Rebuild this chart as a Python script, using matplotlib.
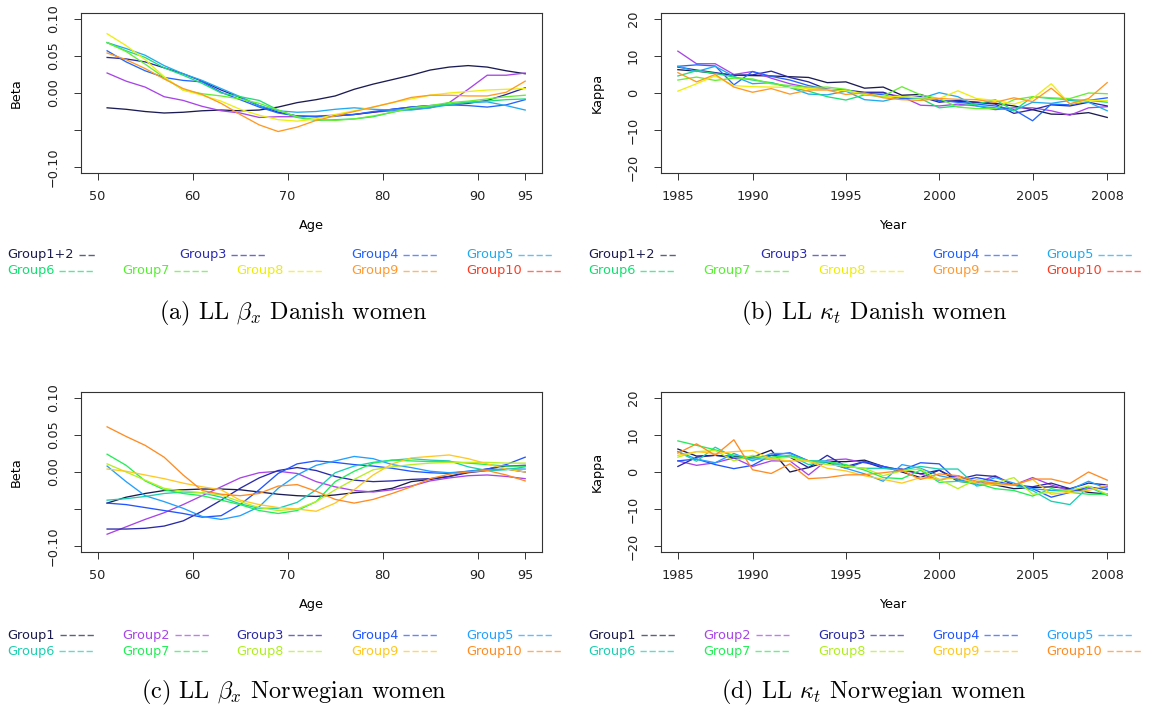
import matplotlib.pyplot as plt
from matplotlib.lines import Line2D
import numpy as np

plt.rcParams['font.family'] = 'DejaVu Sans'
plt.rcParams['mathtext.fontset'] = 'cm'

W, H = 1151, 708

# ---- data ----
ages = list(range(51, 96, 2))
years = list(range(1985, 2009))

# Danish beta_x (lines in drawing order)
dk_beta = [
    [-0.020, -0.022, -0.025, -0.027, -0.026, -0.024, -0.023, -0.024, -0.023, -0.019, -0.013, -0.009,
     -0.004, 0.005, 0.012, 0.018, 0.024, 0.031, 0.035, 0.037, 0.035, 0.030, 0.026],
    [0.027, 0.016, 0.008, -0.005, -0.010, -0.018, -0.024, -0.027, -0.033, -0.032, -0.032, -0.031,
     -0.030, -0.029, -0.026, -0.024, -0.022, -0.020, -0.013, 0.005, 0.024, 0.024, 0.027],
    [0.048, 0.046, 0.042, 0.034, 0.026, 0.016, 0.004, -0.006, -0.017, -0.026, -0.031, -0.032,
     -0.031, -0.029, -0.026, -0.022, -0.019, -0.017, -0.016, -0.014, -0.010, -0.002, 0.007],
    [0.057, 0.042, 0.030, 0.021, 0.017, 0.015, 0.001, -0.009, -0.019, -0.027, -0.031, -0.032,
     -0.031, -0.029, -0.025, -0.022, -0.019, -0.017, -0.016, -0.017, -0.019, -0.016, -0.009],
    [0.068, 0.060, 0.051, 0.037, 0.026, 0.017, 0.006, -0.005, -0.017, -0.024, -0.026, -0.025,
     -0.022, -0.020, -0.022, -0.023, -0.023, -0.020, -0.016, -0.013, -0.012, -0.017, -0.023],
    [0.068, 0.057, 0.048, 0.034, 0.024, 0.013, 0.000, -0.005, -0.010, -0.023, -0.033, -0.037,
     -0.036, -0.035, -0.032, -0.026, -0.021, -0.018, -0.015, -0.012, -0.011, -0.009, -0.008],
    [0.068, 0.056, 0.039, 0.021, 0.004, -0.001, -0.004, -0.008, -0.014, -0.023, -0.032, -0.036,
     -0.037, -0.035, -0.031, -0.026, -0.020, -0.017, -0.013, -0.011, -0.008, -0.005, -0.003],
    [0.080, 0.064, 0.045, 0.022, 0.004, -0.003, -0.011, -0.022, -0.030, -0.036, -0.038, -0.035,
     -0.029, -0.024, -0.019, -0.013, -0.008, -0.003, 0.000, 0.002, 0.004, 0.005, 0.006],
    [0.054, 0.045, 0.033, 0.019, 0.006, -0.002, -0.014, -0.029, -0.043, -0.052, -0.046, -0.037,
     -0.031, -0.025, -0.019, -0.013, -0.006, -0.003, -0.003, -0.004, -0.004, 0.001, 0.016],
]

# Danish kappa_t
dk_kappa = [
    [6.3, 5.9, 5.3, 4.8, 4.7, 4.6, 4.4, 4.2, 2.8, 3.0, 1.3, 1.6, -0.6, -0.4, -2.1, -2.3, -2.5, -2.8,
     -3.5, -4.5, -5.7, -5.8, -5.3, -6.6],
    [11.3, 7.9, 7.9, 5.0, 5.8, 4.0, 2.5, 1.5, 1.0, 0.5, 0.0, 0.0, -1.0, -3.3, -3.5, -3.0, -3.5, -4.5,
     -4.0, -4.0, -4.8, -6.0, -4.0, -3.7],
    [7.0, 6.2, 5.5, 4.8, 4.9, 5.9, 4.2, 3.0, 1.0, 0.8, 0.2, 0.2, -1.5, -1.0, -2.5, -2.0, -2.5, -3.0,
     -5.5, -4.5, -3.2, -3.5, -2.5, -3.5],
    [7.2, 7.6, 7.3, 2.2, 5.8, 4.5, 3.5, 2.0, 1.0, 0.5, 0.0, -0.5, -1.5, -1.2, -2.0, -2.5, -3.0, -3.5,
     -4.5, -7.5, -3.0, -3.2, -2.0, -1.3],
    [7.2, 5.8, 7.2, 4.5, 2.5, 2.8, 1.5, -0.3, -0.5, 0.5, -1.8, -2.2, -1.0, -1.5, 0.1, -1.0, -3.5, -4.0,
     -4.8, -2.5, -2.8, -2.0, -2.5, -4.8],
    [4.6, 6.0, 5.3, 4.3, 3.5, 2.8, 1.5, 0.5, -1.0, -1.9, -0.5, -1.0, -1.0, -1.5, -4.0, -3.5, -3.0, -1.8,
     -4.8, -1.0, -1.5, -1.8, -2.0, -2.5],
    [3.5, 4.3, 3.4, 4.0, 3.8, 2.5, 2.0, 1.5, 1.6, 1.0, -0.5, -0.8, 1.7, -0.5, -1.5, -3.8, -4.2, -4.2,
     -1.8, -1.0, -1.3, -1.5, 0.0, -0.2],
    [0.5, 2.5, 4.6, 2.0, 1.7, 1.6, 1.5, 1.2, 1.0, 0.6, -0.3, -0.8, -1.0, -1.3, -1.5, 0.6, -1.5, -2.0,
     -3.0, -1.5, 2.5, -3.0, -2.0, -2.0],
    [5.5, 3.0, 5.0, 1.6, 0.2, 1.2, -0.3, 0.8, 0.8, -0.4, 0.0, -1.3, -1.8, -2.0, -1.5, -1.7, -1.8, -2.5,
     -1.3, -2.3, 1.3, -2.9, -1.5, 2.8],
]

# Norwegian beta_x, Group1..Group10
no_beta = [
    [-0.042, -0.034, -0.029, -0.025, -0.024, -0.023, -0.023, -0.024, -0.027, -0.030, -0.032, -0.033,
     -0.031, -0.028, -0.026, -0.022, -0.013, -0.010, -0.006, 0.000, 0.004, 0.008, 0.009],
    [-0.084, -0.074, -0.064, -0.055, -0.044, -0.032, -0.020, -0.008, -0.001, 0.001, -0.002, -0.013,
     -0.020, -0.025, -0.027, -0.024, -0.019, -0.012, -0.008, -0.005, -0.004, -0.006, -0.009],
    [-0.077, -0.077, -0.076, -0.073, -0.066, -0.053, -0.038, -0.022, -0.008, 0.002, 0.006, 0.002,
     -0.006, -0.011, -0.013, -0.012, -0.010, -0.009, -0.006, -0.001, 0.002, 0.004, 0.000],
    [-0.042, -0.044, -0.048, -0.052, -0.056, -0.061, -0.059, -0.044, -0.024, -0.002, 0.011, 0.015,
     0.013, 0.010, 0.008, 0.005, 0.001, -0.001, -0.002, 0.001, 0.004, 0.010, 0.020],
    [0.008, -0.013, -0.032, -0.040, -0.049, -0.060, -0.064, -0.059, -0.047, -0.022, -0.004, 0.009,
     0.015, 0.021, 0.018, 0.010, 0.006, 0.001, -0.001, 0.001, 0.003, 0.004, 0.004],
    [-0.038, -0.036, -0.033, -0.029, -0.027, -0.028, -0.034, -0.043, -0.049, -0.049, -0.041, -0.024,
     -0.001, 0.008, 0.013, 0.016, 0.018, 0.016, 0.015, 0.007, 0.002, 0.003, 0.007],
    [0.024, 0.009, -0.012, -0.024, -0.029, -0.032, -0.038, -0.044, -0.052, -0.056, -0.052, -0.040,
     -0.013, 0.001, 0.012, 0.016, 0.015, 0.014, 0.014, 0.012, 0.010, 0.008, 0.008],
    [0.011, 0.000, -0.011, -0.022, -0.026, -0.028, -0.031, -0.040, -0.048, -0.052, -0.050, -0.040,
     -0.024, -0.010, 0.003, 0.007, 0.010, 0.012, 0.013, 0.013, 0.013, 0.012, 0.012],
    [0.004, 0.001, -0.004, -0.009, -0.015, -0.020, -0.024, -0.038, -0.044, -0.048, -0.050, -0.053,
     -0.042, -0.024, -0.004, 0.011, 0.019, 0.021, 0.023, 0.018, 0.011, 0.004, 0.000],
    [0.061, 0.048, 0.036, 0.020, -0.004, -0.025, -0.030, -0.032, -0.029, -0.019, -0.017, -0.026,
     -0.037, -0.042, -0.037, -0.029, -0.020, -0.009, -0.003, 0.000, 0.002, -0.004, -0.012],
]

# Norwegian kappa_t, Group1..Group10
no_kappa = [
    [6.2, 4.3, 4.5, 4.2, 4.0, 5.9, 0.0, 1.2, 2.8, 2.8, 3.2, 1.5, 0.0, -1.5, 0.5, -2.5, -3.0, -3.5,
     -4.5, -4.2, -4.0, -4.5, -5.5, -6.0],
    [3.0, 1.8, 2.5, 3.8, 1.5, 3.0, 3.0, -0.8, 3.2, 3.5, 2.5, 1.5, 0.5, -0.5, -2.2, -1.0, -3.0, -1.0,
     -3.5, -1.5, -3.5, -5.0, -4.5, -4.0],
    [1.5, 4.0, 4.5, 3.8, 3.8, 4.5, 4.0, 1.2, 4.5, 1.5, 2.8, 1.0, 0.8, -0.5, 0.5, -2.0, -0.8, -1.2,
     -3.5, -4.0, -3.0, -4.5, -3.0, -3.5],
    [3.0, 3.5, 2.0, 0.9, 1.8, 4.5, 5.2, 3.0, 2.5, 1.0, 2.8, 1.5, 0.5, 2.5, 2.2, -2.5, -1.5, -2.5,
     -3.5, -4.5, -6.8, -5.5, -4.0, -4.8],
    [5.5, 3.5, 2.5, 5.0, 3.0, 5.0, 5.0, 3.0, 3.0, 1.0, -0.5, -2.5, 2.0, 1.0, -1.0, -2.0, -3.5, -1.5,
     -3.0, -4.5, -5.0, -4.8, -2.5, -4.5],
    [5.5, 2.9, 6.7, 4.0, 3.5, 3.5, 4.5, 2.0, 2.8, 1.5, 1.0, 1.0, 0.5, 1.5, 0.8, 0.8, -3.8, -3.0,
     -3.5, -5.0, -7.9, -8.8, -4.0, -6.3],
    [8.4, 7.2, 6.0, 4.5, 4.0, 4.0, 4.5, 3.0, 2.8, 2.0, 0.5, -1.5, -1.8, 0.5, -2.8, -2.5, -3.0, -4.5,
     -5.0, -6.5, -4.5, -5.5, -6.0, -6.0],
    [4.0, 5.5, 5.8, 3.0, 4.5, 3.5, 4.0, 2.8, 2.0, 1.5, 1.0, -1.0, 0.3, 0.8, -2.0, -4.5, -2.0, -3.0,
     -1.5, -6.0, -5.5, -5.0, -3.8, -6.0],
    [4.5, 5.5, 5.0, 5.5, 5.8, 3.5, 3.0, 3.0, 1.0, 0.3, -1.0, -2.0, -3.0, -1.5, -2.0, -1.5, -3.0, -3.5,
     -3.5, -2.0, -6.0, -5.5, -5.0, -3.5],
    [5.1, 7.6, 4.5, 8.7, 0.6, -0.4, 2.2, -1.8, -1.5, -0.8, -0.7, -0.2, 0.4, -2.0, -0.5, -1.0, -2.5, -3.0,
     -3.5, -1.9, -1.9, -3.1, 0.0, -2.2],
]

dk_line_cols = ['#1c1c54', '#a845e8', '#2a2aa8', '#2266ff', '#22aaee',
                '#22dd77', '#66ee33', '#eeee11', '#ff9922']
no_line_cols = ['#1c1c54', '#a845e8', '#2a2aa8', '#2255ff', '#22a0ff',
                '#1ccfb0', '#22ee55', '#b8ee22', '#ffc822', '#ff8c22']

dk_names = ['Group1+2', 'Group3', 'Group4', 'Group5', 'Group6',
            'Group7', 'Group8', 'Group9', 'Group10']
dk_cols = ['#1b1b4d', '#2c2cb0', '#2060ff', '#20aaee', '#10e070',
           '#55f030', '#eeee00', '#ff9930', '#ff3a20']
no_names = ['Group%d' % i for i in range(1, 11)]
no_cols = ['#1b1b4d', '#a845e8', '#2a2aa8', '#2255ff', '#22a0ff',
           '#1ccfb0', '#22ee55', '#b0ee22', '#ffc822', '#ff8c22']

beta_ticks = [50, 60, 70, 80, 90, 95]
kappa_tick_pos = [1, 5, 10, 15, 20, 24]
kappa_tick_lab = ['1985', '1990', '1995', '2000', '2005', '2008']

FS = 9.3
EDGE = '#333333'


def frame(ax):
    for s in ax.spines.values():
        s.set_color(EDGE)
        s.set_linewidth(0.8)
    ax.tick_params(direction='out', length=5, width=0.7, colors=EDGE,
                   labelsize=FS, labelcolor='#222222')
    ax.tick_params(axis='x', pad=7)
    ax.tick_params(axis='y', labelrotation=90, pad=10)


def beta_panel(rect, series, cols):
    ax = fig.add_axes(rect)
    for y, c in zip(series, cols):
        ax.plot(ages, y, color=c, lw=0.95)
    ax.set_xlim(48.2, 96.8)
    ax.set_ylim(-0.108, 0.108)
    ax.set_xticks(beta_ticks)
    ax.set_yticks([-0.10, -0.05, 0.0, 0.05, 0.10])
    ax.set_yticklabels(['\u22120.10', '', '0.00', '0.05', '0.10'], va='center')
    ax.set_xlabel('Age', fontsize=FS)
    ax.set_ylabel('Beta', fontsize=FS)
    ax.xaxis.set_label_coords(0.5, -0.29)
    ax.yaxis.set_label_coords(-0.126, 0.5)
    frame(ax)
    return ax


def kappa_panel(rect, series, cols):
    ax = fig.add_axes(rect)
    x = np.arange(1, len(years) + 1)
    for y, c in zip(series, cols):
        ax.plot(x, y, color=c, lw=0.95)
    ax.set_xlim(0.08, 24.92)
    ax.set_ylim(-21.6, 21.6)
    ax.set_xticks(kappa_tick_pos)
    ax.set_xticklabels(kappa_tick_lab)
    ax.set_yticks([-20, -10, 0, 10, 20])
    ax.set_yticklabels(['\u221220', '\u221210', '0', '10', '20'], va='center')
    ax.set_xlabel('Year', fontsize=FS)
    ax.set_ylabel('Kappa', fontsize=FS)
    ax.xaxis.set_label_coords(0.5, -0.29)
    ax.yaxis.set_label_coords(-0.122, 0.5)
    frame(ax)
    return ax


def px(x, y):
    return x / W, 1 - y / H


fig = plt.figure(figsize=(W / 100, H / 100), dpi=100)

LX, LW = 80.5, 461.8
RX, RW = 660.7, 463.7
beta_panel([LX / W, 1 - 173 / H, LW / W, 160 / H], dk_beta, dk_line_cols)
kappa_panel([RX / W, 1 - 173 / H, RW / W, 160 / H], dk_kappa, dk_line_cols)
beta_panel([LX / W, 1 - 552 / H, LW / W, 160 / H], no_beta, no_line_cols)
kappa_panel([RX / W, 1 - 552 / H, RW / W, 160 / H], no_kappa, no_line_cols)

# legends: coloured names followed by a short dashed sample
legend_items = []


def legend(names, cols, xs_rows, ys):
    k = 0
    for xs, y in zip(xs_rows, ys):
        for x in xs:
            t = fig.text(*px(x, y), names[k], color=cols[k], fontsize=FS,
                         ha='left', va='center')
            length = 17 if names[k] == 'Group1+2' else 34
            legend_items.append((t, cols[k], length))
            k += 1


legend(dk_names, dk_cols, [[7, 179, 351, 466], [7, 122, 236, 351, 466]], [255, 271])
legend(dk_names, dk_cols, [[588, 760, 932, 1046], [588, 703, 818, 932, 1046]], [255, 271])
legend(no_names, no_cols, [[7, 122, 236, 351, 466], [7, 122, 236, 351, 466]], [635, 651])
legend(no_names, no_cols, [[588, 703, 818, 932, 1046], [588, 703, 818, 932, 1046]], [635, 651])

fig.canvas.draw()
r = fig.canvas.get_renderer()
for t, c, length in legend_items:
    bb = t.get_window_extent(r)
    x0 = bb.x1 + 5
    yc = bb.y0 + 0.5 * bb.height
    fig.add_artist(Line2D([x0 / W, (x0 + length) / W], [yc / H, yc / H],
                          transform=fig.transFigure, color=c, alpha=0.7,
                          lw=1.0, linestyle=(0, (4.5, 2.0))))

captions = [
    (293, 313, '(a) LL $\\beta_x$ Danish women'),
    (874, 313, '(b) LL $\\kappa_t$ Danish women'),
    (294, 692, '(c) LL $\\beta_x$ Norwegian women'),
    (874, 692, '(d) LL $\\kappa_t$ Norwegian women'),
]
for x, y, s in captions:
    fig.text(*px(x, y), s, fontfamily='cmr10', fontsize=17.5, ha='center', va='center')

fig.savefig('out.png', dpi=100)
